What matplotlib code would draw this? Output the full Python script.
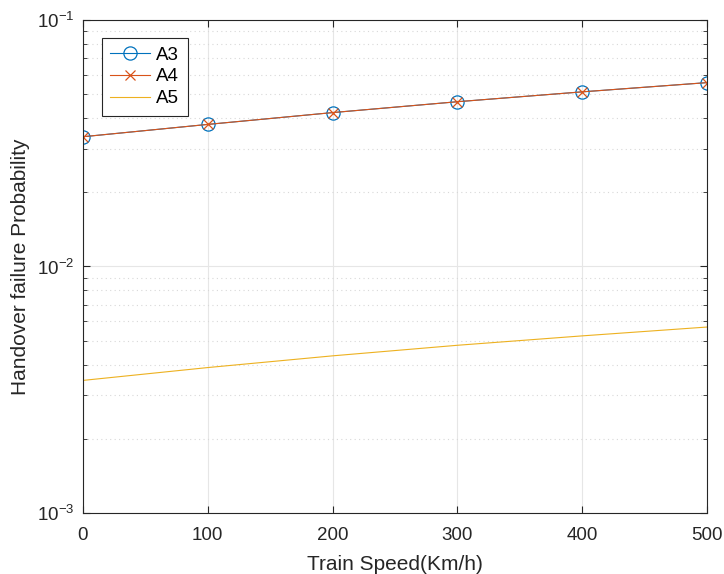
import matplotlib
matplotlib.use('Agg')
import matplotlib.pyplot as plt

# train speed (km/h)
speed = [0, 100, 200, 300, 400, 500]
# handover failure probability for each scheme
a3 = [0.0336, 0.0377, 0.0421, 0.0466, 0.0511, 0.0557]
a4 = [0.0336, 0.0377, 0.0421, 0.0466, 0.0511, 0.0557]
a5 = [0.00345, 0.00389, 0.00434, 0.00479, 0.00523, 0.00568]

plt.rcParams['font.family'] = ['Arial', 'Liberation Sans', 'DejaVu Sans']

fig = plt.figure(figsize=(7.24, 5.74), dpi=100)
ax = fig.add_axes([0.1146, 0.1063, 0.862, 0.8589])

ax.plot(speed, a3, color='#0072BD', lw=0.8, marker='o', ms=9.5, mfc='none', mew=0.9, label='A3')
ax.plot(speed, a4, color='#D95319', lw=0.8, marker='x', ms=7, mew=0.9, label='A4')
ax.plot(speed, a5, color='#EDB120', lw=0.8, label='A5')

ax.set_yscale('log')
ax.set_xlim(0, 500)
ax.set_ylim(1e-3, 1e-1)
ax.set_xticks(speed)

ax.grid(True, which='major', color='#e6e6e6', lw=0.8, ls='-')
ax.grid(True, which='minor', axis='y', color='#d8d8d8', lw=0.8, ls=(0, (1, 3)))
ax.set_axisbelow(True)

ax.tick_params(which='both', direction='in', top=True, right=True, labelsize=13.5, colors='#262626')
ax.tick_params(which='major', length=5)
ax.tick_params(which='minor', length=3)
ax.tick_params(axis='x', pad=10)
ax.tick_params(axis='y', pad=6)
for s in ax.spines.values():
    s.set_color('#262626')
    s.set_linewidth(0.8)

ax.set_xlabel('Train Speed(Km/h)', fontsize=15, color='#262626', labelpad=8)
ax.set_ylabel('Handover failure Probability', fontsize=15, color='#262626', labelpad=5)

leg = ax.legend(loc='upper left', bbox_to_anchor=(0.0304, 0.9635), borderaxespad=0,
                fontsize=13.5, fancybox=False, framealpha=1, edgecolor='#262626',
                handlelength=2.1, handletextpad=0.35, borderpad=0.45, labelspacing=0.25)
leg.get_frame().set_linewidth(0.8)

fig.savefig('out.png', dpi=100)
